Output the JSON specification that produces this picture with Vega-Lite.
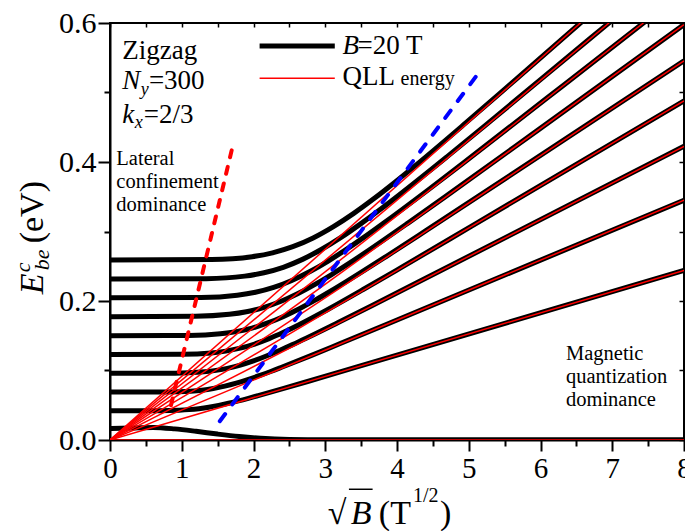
{
  "$schema": "https://vega.github.io/schema/vega-lite/v6.json",
  "width": 574,
  "height": 417,
  "autosize": {"type": "none"},
  "padding": {"left": 110, "top": 23, "right": 1, "bottom": 91},
  "background": "white",
  "config": {
    "view": {"stroke": "black", "strokeWidth": 2},
    "font": "Liberation Serif",
    "text": {"font": "Liberation Serif", "color": "black"},
    "axis": {"labelFont": "Liberation Serif", "labelColor": "black", "tickColor": "black", "domainColor": "black", "grid": false}
  },
  "datasets": {
    "levels": [
      {"level": 0, "sqrtB": 0, "E": 0.0165}, {"level": 0, "sqrtB": 0.3, "E": 0.0172}, {"level": 0, "sqrtB": 0.6, "E": 0.018},
      {"level": 0, "sqrtB": 0.9, "E": 0.016}, {"level": 0, "sqrtB": 1.2, "E": 0.0125}, {"level": 0, "sqrtB": 1.5, "E": 0.0085},
      {"level": 0, "sqrtB": 1.8, "E": 0.005}, {"level": 0, "sqrtB": 2.1, "E": 0.0025}, {"level": 0, "sqrtB": 2.5, "E": 0.0008},
      {"level": 0, "sqrtB": 3.0, "E": 0.0003}, {"level": 0, "sqrtB": 8, "E": 0.0003},

      {"level": 1, "sqrtB": 0, "E": 0.042}, {"level": 1, "sqrtB": 0.689, "E": 0.0421}, {"level": 1, "sqrtB": 0.964, "E": 0.0428},
      {"level": 1, "sqrtB": 1.102, "E": 0.0437}, {"level": 1, "sqrtB": 1.239, "E": 0.0451}, {"level": 1, "sqrtB": 1.377, "E": 0.0471},
      {"level": 1, "sqrtB": 1.515, "E": 0.0498}, {"level": 1, "sqrtB": 1.652, "E": 0.0529}, {"level": 1, "sqrtB": 1.79, "E": 0.0563},
      {"level": 1, "sqrtB": 1.928, "E": 0.06}, {"level": 1, "sqrtB": 2.066, "E": 0.0639}, {"level": 1, "sqrtB": 2.41, "E": 0.0739},
      {"level": 1, "sqrtB": 2.754, "E": 0.0842}, {"level": 1, "sqrtB": 3.443, "E": 0.1051}, {"level": 1, "sqrtB": 8, "E": 0.244},

      {"level": 2, "sqrtB": 0, "E": 0.069}, {"level": 2, "sqrtB": 0.8, "E": 0.0692}, {"level": 2, "sqrtB": 1.12, "E": 0.0703},
      {"level": 2, "sqrtB": 1.28, "E": 0.0717}, {"level": 2, "sqrtB": 1.44, "E": 0.0741}, {"level": 2, "sqrtB": 1.6, "E": 0.0775},
      {"level": 2, "sqrtB": 1.76, "E": 0.0818}, {"level": 2, "sqrtB": 1.92, "E": 0.0869}, {"level": 2, "sqrtB": 2.08, "E": 0.0926},
      {"level": 2, "sqrtB": 2.24, "E": 0.0986}, {"level": 2, "sqrtB": 2.4, "E": 0.105}, {"level": 2, "sqrtB": 2.8, "E": 0.1214},
      {"level": 2, "sqrtB": 3.2, "E": 0.1384}, {"level": 2, "sqrtB": 4.0, "E": 0.1726}, {"level": 2, "sqrtB": 8, "E": 0.345},

      {"level": 3, "sqrtB": 0, "E": 0.096}, {"level": 3, "sqrtB": 0.909, "E": 0.0962}, {"level": 3, "sqrtB": 1.272, "E": 0.0978},
      {"level": 3, "sqrtB": 1.454, "E": 0.0998}, {"level": 3, "sqrtB": 1.635, "E": 0.1031}, {"level": 3, "sqrtB": 1.817, "E": 0.1078},
      {"level": 3, "sqrtB": 1.999, "E": 0.1138}, {"level": 3, "sqrtB": 2.18, "E": 0.1209}, {"level": 3, "sqrtB": 2.362, "E": 0.1288},
      {"level": 3, "sqrtB": 2.544, "E": 0.1372}, {"level": 3, "sqrtB": 2.726, "E": 0.146}, {"level": 3, "sqrtB": 3.18, "E": 0.169},
      {"level": 3, "sqrtB": 3.634, "E": 0.1925}, {"level": 3, "sqrtB": 4.543, "E": 0.2402}, {"level": 3, "sqrtB": 8, "E": 0.4226},

      {"level": 4, "sqrtB": 0, "E": 0.123}, {"level": 4, "sqrtB": 1.008, "E": 0.1233}, {"level": 4, "sqrtB": 1.411, "E": 0.1253},
      {"level": 4, "sqrtB": 1.613, "E": 0.1279}, {"level": 4, "sqrtB": 1.814, "E": 0.1321}, {"level": 4, "sqrtB": 2.016, "E": 0.1381},
      {"level": 4, "sqrtB": 2.218, "E": 0.1458}, {"level": 4, "sqrtB": 2.419, "E": 0.1549}, {"level": 4, "sqrtB": 2.621, "E": 0.165},
      {"level": 4, "sqrtB": 2.822, "E": 0.1758}, {"level": 4, "sqrtB": 3.024, "E": 0.1871}, {"level": 4, "sqrtB": 3.528, "E": 0.2165},
      {"level": 4, "sqrtB": 4.032, "E": 0.2466}, {"level": 4, "sqrtB": 5.04, "E": 0.3077}, {"level": 4, "sqrtB": 8, "E": 0.488},

      {"level": 5, "sqrtB": 0, "E": 0.15}, {"level": 5, "sqrtB": 1.1, "E": 0.1504}, {"level": 5, "sqrtB": 1.539, "E": 0.1528},
      {"level": 5, "sqrtB": 1.759, "E": 0.1559}, {"level": 5, "sqrtB": 1.979, "E": 0.161}, {"level": 5, "sqrtB": 2.199, "E": 0.1684},
      {"level": 5, "sqrtB": 2.419, "E": 0.1778}, {"level": 5, "sqrtB": 2.639, "E": 0.1889}, {"level": 5, "sqrtB": 2.859, "E": 0.2012},
      {"level": 5, "sqrtB": 3.079, "E": 0.2144}, {"level": 5, "sqrtB": 3.299, "E": 0.2282}, {"level": 5, "sqrtB": 3.848, "E": 0.264},
      {"level": 5, "sqrtB": 4.398, "E": 0.3008}, {"level": 5, "sqrtB": 5.498, "E": 0.3753}, {"level": 5, "sqrtB": 8, "E": 0.5456},

      {"level": 6, "sqrtB": 0, "E": 0.1775}, {"level": 6, "sqrtB": 1.188, "E": 0.178}, {"level": 6, "sqrtB": 1.663, "E": 0.1808},
      {"level": 6, "sqrtB": 1.901, "E": 0.1845}, {"level": 6, "sqrtB": 2.138, "E": 0.1906}, {"level": 6, "sqrtB": 2.376, "E": 0.1992},
      {"level": 6, "sqrtB": 2.614, "E": 0.2104}, {"level": 6, "sqrtB": 2.851, "E": 0.2235}, {"level": 6, "sqrtB": 3.089, "E": 0.2381},
      {"level": 6, "sqrtB": 3.326, "E": 0.2537}, {"level": 6, "sqrtB": 3.564, "E": 0.27}, {"level": 6, "sqrtB": 4.158, "E": 0.3124},
      {"level": 6, "sqrtB": 4.752, "E": 0.3559}, {"level": 6, "sqrtB": 5.94, "E": 0.4441}, {"level": 6, "sqrtB": 8, "E": 0.5977},

      {"level": 7, "sqrtB": 0, "E": 0.2045}, {"level": 7, "sqrtB": 1.267, "E": 0.205}, {"level": 7, "sqrtB": 1.774, "E": 0.2083},
      {"level": 7, "sqrtB": 2.027, "E": 0.2126}, {"level": 7, "sqrtB": 2.281, "E": 0.2196}, {"level": 7, "sqrtB": 2.534, "E": 0.2296},
      {"level": 7, "sqrtB": 2.787, "E": 0.2424}, {"level": 7, "sqrtB": 3.041, "E": 0.2575}, {"level": 7, "sqrtB": 3.294, "E": 0.2743},
      {"level": 7, "sqrtB": 3.548, "E": 0.2923}, {"level": 7, "sqrtB": 3.801, "E": 0.3111}, {"level": 7, "sqrtB": 4.435, "E": 0.3599},
      {"level": 7, "sqrtB": 5.068, "E": 0.4101}, {"level": 7, "sqrtB": 6.335, "E": 0.5116}, {"level": 7, "sqrtB": 7.5, "E": 0.6053},

      {"level": 8, "sqrtB": 0, "E": 0.2315}, {"level": 8, "sqrtB": 1.342, "E": 0.2321}, {"level": 8, "sqrtB": 1.878, "E": 0.2358},
      {"level": 8, "sqrtB": 2.146, "E": 0.2407}, {"level": 8, "sqrtB": 2.415, "E": 0.2485}, {"level": 8, "sqrtB": 2.683, "E": 0.2599},
      {"level": 8, "sqrtB": 2.951, "E": 0.2744}, {"level": 8, "sqrtB": 3.22, "E": 0.2915}, {"level": 8, "sqrtB": 3.488, "E": 0.3106},
      {"level": 8, "sqrtB": 3.756, "E": 0.3309}, {"level": 8, "sqrtB": 4.025, "E": 0.3522}, {"level": 8, "sqrtB": 4.695, "E": 0.4074},
      {"level": 8, "sqrtB": 5.366, "E": 0.4642}, {"level": 8, "sqrtB": 6.708, "E": 0.5792}, {"level": 8, "sqrtB": 7.0, "E": 0.6039},

      {"level": 9, "sqrtB": 0, "E": 0.259}, {"level": 9, "sqrtB": 1.416, "E": 0.2597}, {"level": 9, "sqrtB": 1.982, "E": 0.2638},
      {"level": 9, "sqrtB": 2.265, "E": 0.2693}, {"level": 9, "sqrtB": 2.548, "E": 0.2781}, {"level": 9, "sqrtB": 2.831, "E": 0.2907},
      {"level": 9, "sqrtB": 3.114, "E": 0.307}, {"level": 9, "sqrtB": 3.397, "E": 0.3261}, {"level": 9, "sqrtB": 3.68, "E": 0.3474},
      {"level": 9, "sqrtB": 3.963, "E": 0.3702}, {"level": 9, "sqrtB": 4.247, "E": 0.394}, {"level": 9, "sqrtB": 4.954, "E": 0.4558},
      {"level": 9, "sqrtB": 5.662, "E": 0.5193}, {"level": 9, "sqrtB": 6.6, "E": 0.6039}
    ],
    "qll": [
      {"n": 0, "sqrtB": 0, "E": 0}, {"n": 0, "sqrtB": 8, "E": 0},
      {"n": 1, "sqrtB": 0, "E": 0}, {"n": 1, "sqrtB": 8, "E": 0.244},
      {"n": 2, "sqrtB": 0, "E": 0}, {"n": 2, "sqrtB": 8, "E": 0.345},
      {"n": 3, "sqrtB": 0, "E": 0}, {"n": 3, "sqrtB": 8, "E": 0.4226},
      {"n": 4, "sqrtB": 0, "E": 0}, {"n": 4, "sqrtB": 8, "E": 0.488},
      {"n": 5, "sqrtB": 0, "E": 0}, {"n": 5, "sqrtB": 8, "E": 0.5456},
      {"n": 6, "sqrtB": 0, "E": 0}, {"n": 6, "sqrtB": 8, "E": 0.5977},
      {"n": 7, "sqrtB": 0, "E": 0}, {"n": 7, "sqrtB": 7.435, "E": 0.6},
      {"n": 8, "sqrtB": 0, "E": 0}, {"n": 8, "sqrtB": 6.955, "E": 0.6},
      {"n": 9, "sqrtB": 0, "E": 0}, {"n": 9, "sqrtB": 6.557, "E": 0.6}
    ],
    "lateral": [
      {"sqrtB": 0.85, "E": 0.05}, {"sqrtB": 1.71, "E": 0.423}
    ],
    "crossover": [
      {"sqrtB": 1.53, "E": 0.027}, {"sqrtB": 5.1, "E": 0.523}
    ],
    "one": [{}]
  },
  "resolve": {"axis": {"x": "independent", "y": "independent"}},
  "layer": [
    {
      "data": {"name": "levels"},
      "mark": {"type": "line", "color": "black", "strokeWidth": 5, "interpolate": "monotone", "clip": true},
      "encoding": {
        "x": {
          "field": "sqrtB", "type": "quantitative",
          "scale": {"domain": [0, 8], "nice": false, "zero": false},
          "axis": {
            "orient": "bottom", "title": null,
            "values": [0, 0.5, 1, 1.5, 2, 2.5, 3, 3.5, 4, 4.5, 5, 5.5, 6, 6.5, 7, 7.5, 8],
            "labelExpr": "datum.value % 1 === 0 ? format(datum.value, 'd') : ''",
            "tickSize": {"condition": {"test": "datum.value % 1 === 0", "value": 11}, "value": 6},
            "tickWidth": 2, "domainWidth": 2, "labelFontSize": 29, "labelPadding": 3,
            "labelOverlap": false, "labelFlush": false, "labelBound": false
          }
        },
        "y": {
          "field": "E", "type": "quantitative",
          "scale": {"domain": [0, 0.6], "nice": false, "zero": false},
          "axis": {
            "orient": "left", "title": null,
            "values": [0, 0.1, 0.2, 0.3, 0.4, 0.5, 0.6],
            "labelExpr": "round(datum.value * 10) % 2 === 0 ? format(datum.value, '.1f') : ''",
            "tickSize": {"condition": {"test": "round(datum.value * 10) % 2 === 0", "value": 12}, "value": 6},
            "tickWidth": 2, "domainWidth": 2, "labelFontSize": 30, "labelPadding": 2,
            "labelOverlap": false, "labelFlush": false, "labelBound": false
          }
        },
        "detail": {"field": "level", "type": "nominal"}
      }
    },
    {
      "data": {"name": "qll"},
      "mark": {"type": "line", "color": "#ff0000", "strokeWidth": 1.5, "clip": true},
      "encoding": {
        "x": {
          "field": "sqrtB", "type": "quantitative",
          "axis": {
            "orient": "top", "title": null, "labels": false, "domain": false,
            "values": [0, 0.5, 1, 1.5, 2, 2.5, 3, 3.5, 4, 4.5, 5, 5.5, 6, 6.5, 7, 7.5, 8],
            "tickSize": -4, "tickWidth": 1.5
          }
        },
        "y": {
          "field": "E", "type": "quantitative",
          "axis": {
            "orient": "right", "title": null, "labels": false, "domain": false,
            "values": [0, 0.1, 0.2, 0.3, 0.4, 0.5, 0.6],
            "tickSize": -5, "tickWidth": 1.5
          }
        },
        "detail": {"field": "n", "type": "nominal"}
      }
    },
    {
      "data": {"name": "lateral"},
      "mark": {"type": "line", "color": "#ff0000", "strokeWidth": 4, "strokeDash": [7, 10], "strokeCap": "round"},
      "encoding": {
        "x": {"field": "sqrtB", "type": "quantitative", "axis": null},
        "y": {"field": "E", "type": "quantitative", "axis": null}
      }
    },
    {
      "data": {"name": "crossover"},
      "mark": {"type": "line", "color": "#0000ff", "strokeWidth": 4, "strokeDash": [9, 12], "strokeCap": "round"},
      "encoding": {
        "x": {"field": "sqrtB", "type": "quantitative", "axis": null},
        "y": {"field": "E", "type": "quantitative", "axis": null}
      }
    },
    {
      "data": {"name": "one"},
      "layer": [
        {
          "mark": {"type": "rule", "color": "black", "strokeWidth": 5},
          "encoding": {
            "x": {"datum": 2.085, "type": "quantitative", "axis": null},
            "x2": {"datum": 3.133},
            "y": {"datum": 0.567, "type": "quantitative", "axis": null}
          }
        },
        {
          "mark": {"type": "rule", "color": "#ff0000", "strokeWidth": 1.5},
          "encoding": {
            "x": {"datum": 2.085, "type": "quantitative", "axis": null},
            "x2": {"datum": 3.133},
            "y": {"datum": 0.5204, "type": "quantitative", "axis": null}
          }
        },
        {
          "mark": {"type": "text", "fontSize": 27, "fontStyle": "italic", "align": "left", "baseline": "alphabetic"},
          "encoding": {
            "x": {"datum": 3.24, "type": "quantitative", "axis": null},
            "y": {"datum": 0.5549, "type": "quantitative", "axis": null},
            "text": {"value": "B"}
          }
        },
        {
          "mark": {"type": "text", "fontSize": 27, "align": "left", "baseline": "alphabetic"},
          "encoding": {
            "x": {"datum": 3.45, "type": "quantitative", "axis": null},
            "y": {"datum": 0.5549, "type": "quantitative", "axis": null},
            "text": {"value": "=20 T"}
          }
        },
        {
          "mark": {"type": "text", "fontSize": 27, "align": "left", "baseline": "alphabetic"},
          "encoding": {
            "x": {"datum": 3.24, "type": "quantitative", "axis": null},
            "y": {"datum": 0.5103, "type": "quantitative", "axis": null},
            "text": {"value": "QLL"}
          }
        },
        {
          "mark": {"type": "text", "fontSize": 20, "align": "left", "baseline": "alphabetic"},
          "encoding": {
            "x": {"datum": 4.05, "type": "quantitative", "axis": null},
            "y": {"datum": 0.5103, "type": "quantitative", "axis": null},
            "text": {"value": "energy"}
          }
        },
        {
          "mark": {"type": "text", "fontSize": 27, "align": "left", "baseline": "alphabetic"},
          "encoding": {
            "x": {"datum": 0.172, "type": "quantitative", "axis": null},
            "y": {"datum": 0.5478, "type": "quantitative", "axis": null},
            "text": {"value": "Zigzag"}
          }
        },
        {
          "mark": {"type": "text", "fontSize": 27, "fontStyle": "italic", "align": "left", "baseline": "alphabetic"},
          "encoding": {
            "x": {"datum": 0.172, "type": "quantitative", "axis": null},
            "y": {"datum": 0.5046, "type": "quantitative", "axis": null},
            "text": {"value": "N"}
          }
        },
        {
          "mark": {"type": "text", "fontSize": 18, "fontStyle": "italic", "align": "left", "baseline": "alphabetic"},
          "encoding": {
            "x": {"datum": 0.43, "type": "quantitative", "axis": null},
            "y": {"datum": 0.4959, "type": "quantitative", "axis": null},
            "text": {"value": "y"}
          }
        },
        {
          "mark": {"type": "text", "fontSize": 27, "align": "left", "baseline": "alphabetic"},
          "encoding": {
            "x": {"datum": 0.542, "type": "quantitative", "axis": null},
            "y": {"datum": 0.5046, "type": "quantitative", "axis": null},
            "text": {"value": "=300"}
          }
        },
        {
          "mark": {"type": "text", "fontSize": 27, "fontStyle": "italic", "align": "left", "baseline": "alphabetic"},
          "encoding": {
            "x": {"datum": 0.172, "type": "quantitative", "axis": null},
            "y": {"datum": 0.4557, "type": "quantitative", "axis": null},
            "text": {"value": "k"}
          }
        },
        {
          "mark": {"type": "text", "fontSize": 18, "fontStyle": "italic", "align": "left", "baseline": "alphabetic"},
          "encoding": {
            "x": {"datum": 0.346, "type": "quantitative", "axis": null},
            "y": {"datum": 0.4485, "type": "quantitative", "axis": null},
            "text": {"value": "x"}
          }
        },
        {
          "mark": {"type": "text", "fontSize": 27, "align": "left", "baseline": "alphabetic"},
          "encoding": {
            "x": {"datum": 0.472, "type": "quantitative", "axis": null},
            "y": {"datum": 0.4557, "type": "quantitative", "axis": null},
            "text": {"value": "=2/3"}
          }
        },
        {
          "mark": {"type": "text", "fontSize": 20.5, "align": "left", "baseline": "alphabetic", "lineHeight": 23},
          "encoding": {
            "x": {"datum": 0.088, "type": "quantitative", "axis": null},
            "y": {"datum": 0.3957, "type": "quantitative", "axis": null},
            "text": {"value": ["Lateral", "confinement", "dominance"]}
          }
        },
        {
          "mark": {"type": "text", "fontSize": 20.5, "align": "left", "baseline": "alphabetic", "lineHeight": 23},
          "encoding": {
            "x": {"datum": 6.355, "type": "quantitative", "axis": null},
            "y": {"datum": 0.1151, "type": "quantitative", "axis": null},
            "text": {"value": ["Magnetic", "quantization", "dominance"]}
          }
        },
        {
          "mark": {"type": "text", "fontSize": 34, "align": "left", "baseline": "alphabetic"},
          "encoding": {
            "x": {"datum": 3.035, "type": "quantitative", "axis": null},
            "y": {"datum": -0.1213, "type": "quantitative", "axis": null},
            "text": {"value": "√"}
          }
        },
        {
          "mark": {"type": "rule", "color": "black", "strokeWidth": 1.5},
          "encoding": {
            "x": {"datum": 3.33, "type": "quantitative", "axis": null},
            "x2": {"datum": 3.66},
            "y": {"datum": -0.0709, "type": "quantitative", "axis": null}
          }
        },
        {
          "mark": {"type": "text", "fontSize": 34, "fontStyle": "italic", "align": "left", "baseline": "alphabetic"},
          "encoding": {
            "x": {"datum": 3.356, "type": "quantitative", "axis": null},
            "y": {"datum": -0.1213, "type": "quantitative", "axis": null},
            "text": {"value": "B"}
          }
        },
        {
          "mark": {"type": "text", "fontSize": 34, "align": "left", "baseline": "alphabetic"},
          "encoding": {
            "x": {"datum": 3.747, "type": "quantitative", "axis": null},
            "y": {"datum": -0.1213, "type": "quantitative", "axis": null},
            "text": {"value": "(T"}
          }
        },
        {
          "mark": {"type": "text", "fontSize": 20, "align": "left", "baseline": "alphabetic"},
          "encoding": {
            "x": {"datum": 4.222, "type": "quantitative", "axis": null},
            "y": {"datum": -0.0896, "type": "quantitative", "axis": null},
            "text": {"value": "1/2"}
          }
        },
        {
          "mark": {"type": "text", "fontSize": 34, "align": "left", "baseline": "alphabetic"},
          "encoding": {
            "x": {"datum": 4.6, "type": "quantitative", "axis": null},
            "y": {"datum": -0.1213, "type": "quantitative", "axis": null},
            "text": {"value": ")"}
          }
        },
        {
          "mark": {"type": "text", "fontSize": 34, "fontStyle": "italic", "align": "left", "baseline": "alphabetic", "angle": 270},
          "encoding": {
            "x": {"datum": -0.9316, "type": "quantitative", "axis": null},
            "y": {"datum": 0.2096, "type": "quantitative", "axis": null},
            "text": {"value": "E"}
          }
        },
        {
          "mark": {"type": "text", "fontSize": 22, "fontStyle": "italic", "align": "left", "baseline": "alphabetic", "angle": 270},
          "encoding": {
            "x": {"datum": -1.113, "type": "quantitative", "axis": null},
            "y": {"datum": 0.2413, "type": "quantitative", "axis": null},
            "text": {"value": "c"}
          }
        },
        {
          "mark": {"type": "text", "fontSize": 22, "fontStyle": "italic", "align": "left", "baseline": "alphabetic", "angle": 270},
          "encoding": {
            "x": {"datum": -0.848, "type": "quantitative", "axis": null},
            "y": {"datum": 0.2442, "type": "quantitative", "axis": null},
            "text": {"value": "be"}
          }
        },
        {
          "mark": {"type": "text", "fontSize": 34, "align": "left", "baseline": "alphabetic", "angle": 270},
          "encoding": {
            "x": {"datum": -0.9316, "type": "quantitative", "axis": null},
            "y": {"datum": 0.283, "type": "quantitative", "axis": null},
            "text": {"value": "(eV)"}
          }
        }
      ]
    }
  ]
}
